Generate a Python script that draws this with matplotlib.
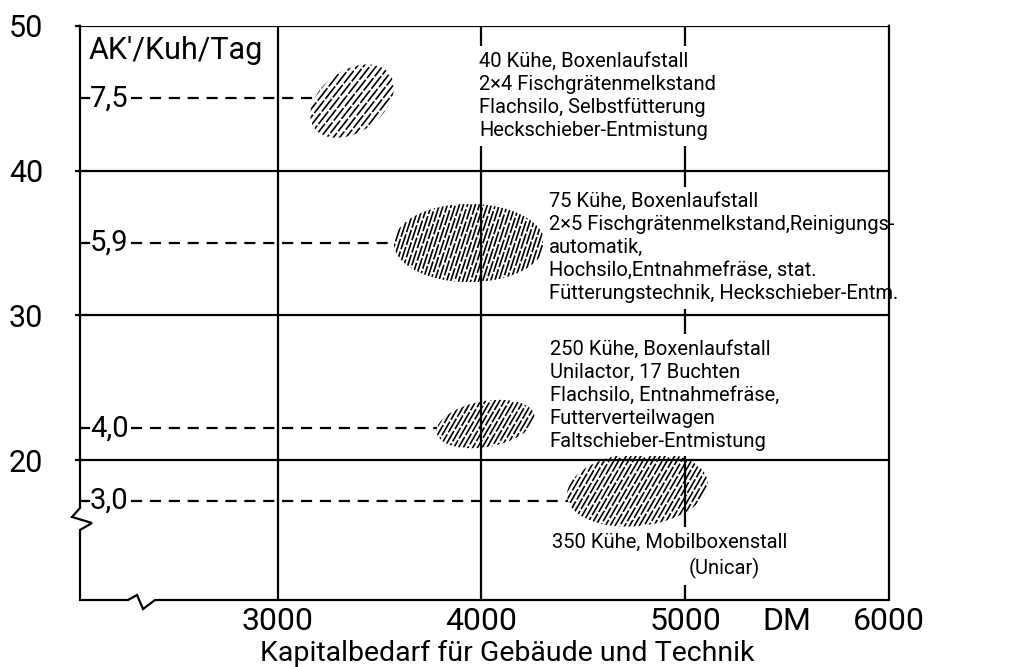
import numpy as np
import matplotlib
matplotlib.use("Agg")
import matplotlib.pyplot as plt
from matplotlib.patches import Polygon
from matplotlib.collections import LineCollection

plt.rcParams['font.family'] = ['Roboto', 'DejaVu Sans']

# ---------------- data ----------------
x_ticks = [3000, 4000, 5000, 6000]
x_tick_labels = ['3000', '4000', '5000', '6000']
unit_pos = 5500
unit_label = 'DM'
y_ticks = [20, 30, 40, 50]
y_tick_labels = ['20', '30', '40', '50']
x_label = 'Kapitalbedarf für Gebäude und Technik'
ak_title = "AK'/Kuh/Tag"
ak_labels = ['7,5', '5,9', '4,0', '3,0']
ak_levels = [45.0, 35.0, 22.2, 17.2]

blob_x_min = [3160, 3570, 3780, 4420]
blob_x_max = [3570, 4310, 4260, 5110]
blob_y_center = [44.8, 35.0, 22.5, 18.0]
blob_y_height = [4.7, 5.4, 3.2, 5.1]
blob_shear = [0.4, 0.0, 0.3, 0.15]
hatch_angle = [52, 72, 60, 60]
hatch_spacing = [5.0, 3.8, 4.1, 4.2]

descriptions = [
    "40 Kühe, Boxenlaufstall\n2×4 Fischgrätenmelkstand\nFlachsilo, Selbstfütterung\nHeckschieber-Entmistung",
    "75 Kühe, Boxenlaufstall\n2×5 Fischgrätenmelkstand,Reinigungs-\nautomatik,\nHochsilo,Entnahmefräse, stat.\nFütterungstechnik, Heckschieber-Entm.",
    "250 Kühe, Boxenlaufstall\nUnilactor, 17 Buchten\nFlachsilo, Entnahmefräse,\nFutterverteilwagen\nFaltschieber-Entmistung",
    "350 Kühe, Mobilboxenstall",
]
desc_x = [3990, 4330, 4335, 4345]
desc_y = [48.2, 38.5, 28.3, 14.97]
extra_text = '(Unicar)'
extra_x = 5015
extra_y = 13.25

XMIN, XMAX = 2030, 6000
YMIN, YMAX = 10.35, 50

# ---------------- figure ----------------
fig = plt.figure(figsize=(10.28, 6.67), dpi=100)
ax = fig.add_axes([80 / 1028, 1 - 600 / 667, 809 / 1028, (600 - 25.8) / 667])
ax.set_xlim(XMIN, XMAX)
ax.set_ylim(YMIN, YMAX)
for s in ax.spines.values():
    s.set_visible(False)

LW = 1.6
# interior vertical lines
ax.vlines(x_ticks[:3], YMIN, YMAX, color='black', lw=LW, zorder=2.5)
# horizontal lines
ax.hlines(y_ticks, XMIN, XMAX, color='black', lw=LW, zorder=4)
# frame with break marks (axes coordinates)
frame = [(0, 1), (0, 0.1602), (-0.0099, 0.1446), (0.0148, 0.1341), (0, 0.1219),
         (0, 0), (0.0593, 0), (0.0705, 0.0087), (0.0779, -0.0157), (0.0927, 0),
         (1, 0), (1, 1)]
fx, fy = zip(*frame)
ax.plot(fx, fy, color='black', lw=LW, transform=ax.transAxes, clip_on=False,
        zorder=4, solid_joinstyle='miter')

# ticks
ax.set_xticks(x_ticks + [unit_pos])
ax.set_xticklabels(x_tick_labels + [unit_label])
ax.tick_params(axis='x', length=0, pad=5, labelsize=23)
ax.set_yticks(y_ticks)
ax.set_yticklabels(y_tick_labels)
ax.tick_params(axis='y', length=3.5, width=LW, direction='out', pad=23, labelsize=22)

ax.text(0.528, -0.106, x_label, transform=ax.transAxes, ha='center',
        va='baseline', fontsize=20.5)

xr = XMAX - XMIN
ax.text(XMIN + 0.011 * xr, 49.3, ak_title, ha='left', va='top', fontsize=22)

for i in range(4):
    # blob polygon
    t = np.linspace(0, 2 * np.pi, 200)
    cx = (blob_x_min[i] + blob_x_max[i]) / 2
    a = (blob_x_max[i] - blob_x_min[i]) / 2
    b = blob_y_height[i] / 2
    px = cx + a * np.cos(t)
    py = blob_y_center[i] + b * np.sin(t) + blob_shear[i] * b * np.cos(t)
    poly = Polygon(np.column_stack([px, py]), closed=True, facecolor='white',
                   edgecolor='none', zorder=2)
    ax.add_patch(poly)
    # hatch lines in pixel space, clipped to the blob
    disp = ax.transData.transform(np.column_stack([px, py]))
    x0, y0 = disp.min(axis=0) - 5
    x1, y1 = disp.max(axis=0) + 5
    ccx, ccy = (x0 + x1) / 2, (y0 + y1) / 2
    R = np.hypot(x1 - x0, y1 - y0) / 2 + 5
    th = np.deg2rad(hatch_angle[i])
    d = np.array([np.cos(th), np.sin(th)])
    nrm = np.array([-np.sin(th), np.cos(th)])
    segs = []
    styles = []
    for j, off in enumerate(np.arange(-R, R, hatch_spacing[i])):
        c = np.array([ccx, ccy]) + off * nrm
        p0 = c - R * d
        p1 = c + R * d
        segs.append(ax.transAxes.inverted().transform(np.array([p0, p1])))
        styles.append(((j * 3.7) % 11.0, (9.5, 1.3)))
    lc = LineCollection(segs, colors='black', linewidths=1.2,
                        linestyles=styles, transform=ax.transAxes,
                        zorder=2.1)
    ax.add_collection(lc)
    lc.set_clip_path(poly)

    # AK level label, small tick and dashed leader
    lvl = ak_levels[i]
    ax.plot([XMIN, XMIN + 0.011 * xr], [lvl, lvl], color='black', lw=LW, zorder=3)
    ax.text(XMIN + 0.012 * xr, lvl, ak_labels[i], ha='left', va='center',
            fontsize=21)
    ax.plot([XMIN + 0.063 * xr, blob_x_min[i] + 0.1 * a], [lvl, lvl], color='black',
            lw=LW, dashes=(5, 3.5), zorder=1.5)

    # description block
    ax.text(desc_x[i], desc_y[i], descriptions[i], ha='left', va='top',
            fontsize=14.5, linespacing=1.26, zorder=3,
            bbox=dict(facecolor='white', edgecolor='none', pad=4))

ax.text(extra_x, extra_y, extra_text, ha='left', va='top', fontsize=14.5,
        zorder=3, bbox=dict(facecolor='white', edgecolor='none', pad=4))

fig.savefig('out.png', dpi=100)
